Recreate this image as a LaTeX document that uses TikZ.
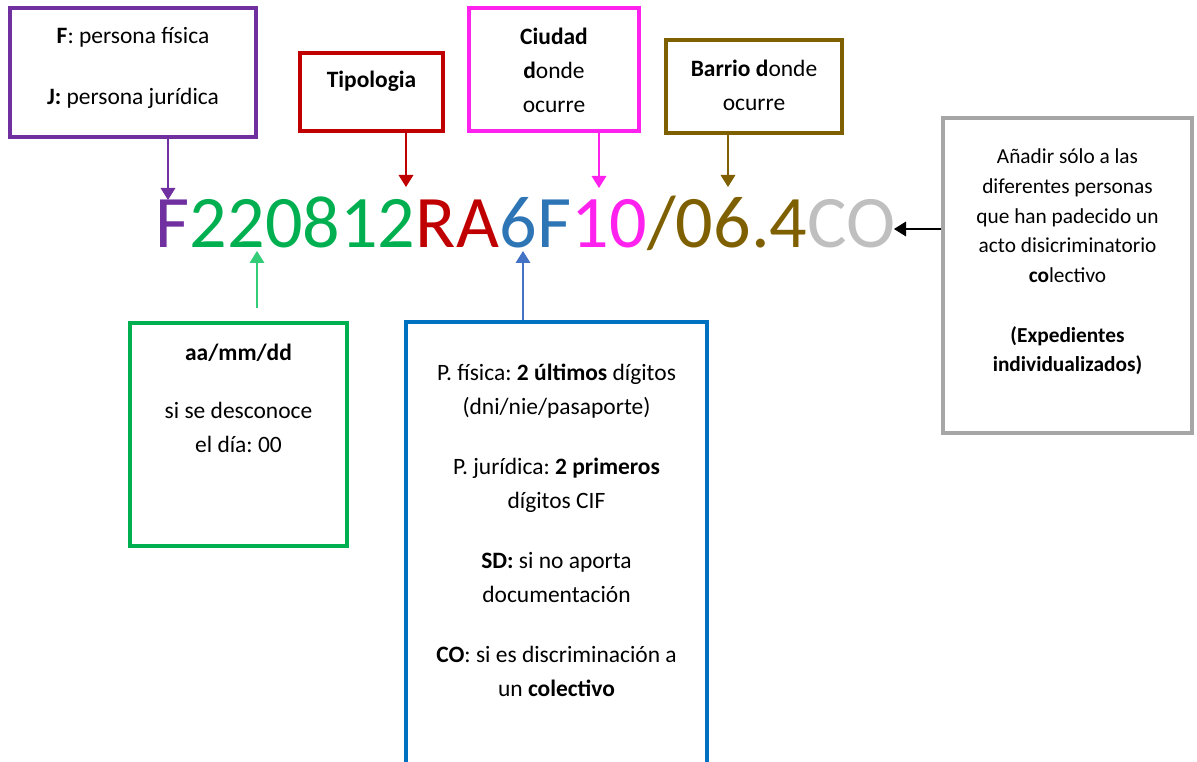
\documentclass[tikz,border=0pt]{standalone}
\usepackage{fontspec}
\setmainfont{Carlito}
\usetikzlibrary{arrows.meta}

\definecolor{morado}{HTML}{7030A0}
\definecolor{verde}{HTML}{00B050}
\definecolor{verdeflecha}{HTML}{33CC77}
\definecolor{rojo}{HTML}{C00000}
\definecolor{azul}{HTML}{2E75B6}
\definecolor{azulcaja}{HTML}{0070C0}
\definecolor{azulflecha}{HTML}{4472C4}
\definecolor{rosa}{HTML}{FF22EE}
\definecolor{marron}{HTML}{7F6000}
\definecolor{gris}{HTML}{BFBFBF}
\definecolor{griscaja}{HTML}{A6A6A6}

\begin{document}
\frenchspacing
\begin{tikzpicture}[x=0.75pt,y=-0.75pt,
  caja/.style={draw,line width=2.6pt,inner sep=0pt},
  nota/.style={align=center,inner sep=0pt,font=\fontsize{17.6}{25.5}\selectfont\frenchspacing},
  codigo/.style={inner sep=0pt,anchor=base west,font=\fontsize{55.6}{60}\selectfont},
  flecha/.style={-{Triangle[length=9pt,width=11pt]},line width=0.9pt}]
  \clip (0,0) rectangle (1197,762);

  % cajas
  \node[caja,morado,minimum width={246*0.75pt},minimum height={129*0.75pt}] (persona) at (133,72.5) {};
  \node[caja,rojo,minimum width={143*0.75pt},minimum height={78*0.75pt}] (tipo) at (371.5,92) {};
  \node[caja,rosa,minimum width={170*0.75pt},minimum height={123*0.75pt}] (ciudad) at (554,69.5) {};
  \node[caja,marron,minimum width={176*0.75pt},minimum height={93*0.75pt}] (barrio) at (754,86.5) {};
  \node[caja,griscaja,minimum width={249*0.75pt},minimum height={315*0.75pt}] (colect) at (1067.5,275.5) {};
  \node[caja,verde,minimum width={217*0.75pt},minimum height={223*0.75pt}] (fecha) at (238.5,434.5) {};
  \node[caja,azulcaja,minimum width={301*0.75pt},minimum height={470*0.75pt}] (digitos) at (556.5,557) {};

  % textos
  \node[nota] (tpersona) at (133,68) {\textbf{F}: persona física\\[20pt]\textbf{J:} persona jurídica};
  \node[nota] (ttipo) at (371.5,81) {\textbf{Tipologia}};
  \node[nota] (tciudad) at (554,70) {\textbf{Ciudad}\\\textbf{d}onde\\ocurre};
  \node[nota] (tbarrio) at (754,85.5) {\textbf{Barrio d}onde\\ocurre};
  \node[nota,font=\fontsize{16}{22.3}\selectfont\frenchspacing] (tcolect) at (1067.5,262)
    {Añadir sólo a las\\diferentes personas\\que han padecido un\\acto disicriminatorio\\\textbf{co}lectivo\\[22.3pt]\textbf{(Expedientes}\\\textbf{individualizados)}};
  \node[nota] (tfecha) at (238.5,398) {\textbf{aa/mm/dd}\\[18pt]si se desconoce\\el día: 00};
  \node[nota] (tdigitos) at (556.5,530)
    {P. física: \textbf{2 últimos} dígitos\\(dni/nie/pasaporte)\\[19.5pt]
     P. jurídica: \textbf{2 primeros}\\dígitos CIF\\[19.5pt]
     \textbf{SD:} si no aporta\\documentación\\[19.5pt]
     \textbf{CO}: si es discriminación a\\un \textbf{colectivo}};

  % codigo
  \node[codigo,morado] (cF) at (155,248) {F};
  \node[codigo,verde] (cFecha) at (cF.base east) {220812};
  \node[codigo,rojo] (cTipo) at (cFecha.base east) {RA};
  \node[codigo,azul] (cDig) at (cTipo.base east) {6F};
  \node[codigo,rosa] (cCiudad) at (cDig.base east) {10};
  \node[codigo,marron] (cBarrio) at (cCiudad.base east) {/06.4};
  \node[codigo,gris] (cCO) at (cBarrio.base east) {CO};

  % flechas
  \coordinate (pF) at (168,200);
  \coordinate (pTipo) at (406,187);
  \coordinate (pCiudad) at (599,188);
  \coordinate (pBarrio) at (728,187);
  \coordinate (pFecha) at (257,251);
  \coordinate (oFecha) at (257,308);
  \coordinate (pDig) at (523,251);
  \coordinate (pCO) at (894,229);
  \draw[flecha,morado] (persona.south -| pF) -- (pF);
  \draw[flecha,rojo] (tipo.south -| pTipo) -- (pTipo);
  \draw[flecha,rosa] (ciudad.south -| pCiudad) -- (pCiudad);
  \draw[flecha,marron] (barrio.south -| pBarrio) -- (pBarrio);
  \draw[flecha,verdeflecha] (oFecha) -- (pFecha);
  \draw[flecha,azulflecha] (digitos.north -| pDig) -- (pDig);
  \draw[flecha,black] (colect.west |- pCO) -- (pCO);
\end{tikzpicture}
\end{document}
